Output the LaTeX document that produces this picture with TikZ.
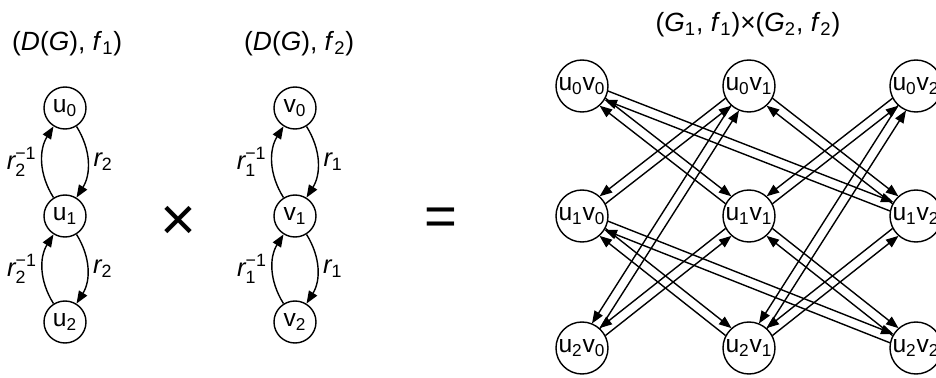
\documentclass[tikz,border=0pt]{standalone}
\usepackage{amsmath}
\usepackage{fontspec}
\setmainfont{Liberation Sans}
\usetikzlibrary{arrows.meta,calc}
\tikzset{
  every picture/.style={line join=round, >={Triangle[length=0.25cm,width=0.19cm]}},
  vtx/.style={draw, circle, line width=0.8pt, minimum size=0.84cm, inner sep=0pt, font=\fontsize{14}{16}\selectfont},
  pvtx/.style={vtx, minimum size=1.04cm},
  link/.style={->, line width=0.8pt},
  lbl/.style={font=\fontsize{14.5}{17}\selectfont, inner sep=3pt},
  ttl/.style={font=\fontsize{15}{18}\selectfont},
}
\newcommand{\gp}{0.095cm}
\newcommand{\rad}{0.52cm}

\begin{document}
\begin{tikzpicture}
\useasboundingbox (0,0) rectangle (18.720,7.560);
% titles
\node[ttl,anchor=west] (t1) at (0.120,6.680) {(\textit{D}(\textit{G}), \textit{f}\textsubscript{1})};
\node[ttl,anchor=west] (t2) at (4.760,6.680) {(\textit{D}(\textit{G}), \textit{f}\textsubscript{2})};
\node[ttl] (t3) at (14.960,7.060) {(\textit{G}\textsubscript{1}, \textit{f}\textsubscript{1})×(\textit{G}\textsubscript{2}, \textit{f}\textsubscript{2})};
% first factor
\node[vtx] (u0) at (1.300,5.400) {u\textsubscript{0}};
\node[vtx] (u1) at (1.300,3.240) {u\textsubscript{1}};
\node[vtx] (u2) at (1.300,1.120) {u\textsubscript{2}};
\draw[link] (u0) to[bend left=32] node[lbl,right] {$\textit{r}_{\text{2}}$} (u1);
\draw[link] (u1) to[bend left=32] node[lbl,left] {$\textit{r}^{\text{−1}}_{\text{2}}$} (u0);
\draw[link] (u1) to[bend left=32] node[lbl,right] {$\textit{r}_{\text{2}}$} (u2);
\draw[link] (u2) to[bend left=32] node[lbl,left] {$\textit{r}^{\text{−1}}_{\text{2}}$} (u1);
% second factor
\node[vtx] (v0) at (5.900,5.400) {v\textsubscript{0}};
\node[vtx] (v1) at (5.900,3.240) {v\textsubscript{1}};
\node[vtx] (v2) at (5.900,1.120) {v\textsubscript{2}};
\draw[link] (v0) to[bend left=32] node[lbl,right] {$\textit{r}_{\text{1}}$} (v1);
\draw[link] (v1) to[bend left=32] node[lbl,left] {$\textit{r}^{\text{−1}}_{\text{1}}$} (v0);
\draw[link] (v1) to[bend left=32] node[lbl,right] {$\textit{r}_{\text{1}}$} (v2);
\draw[link] (v2) to[bend left=32] node[lbl,left] {$\textit{r}^{\text{−1}}_{\text{1}}$} (v1);
% operators
\node[font=\fontsize{35}{37}\selectfont] (times) at (3.560,3.100) {×};
\node[font=\fontsize{32}{34}\selectfont] (eq) at (8.820,3.120) {=};
% product
\foreach \i/\y in {0/5.840,1/3.240,2/0.600}
  \foreach \j/\x in {0/11.640,1/14.980,2/18.320}
    \node[pvtx] (u\i v\j) at (\x,\y) {u\textsubscript{\i}v\textsubscript{\j}};
\foreach \a/\b/\s in {u0v0/u1v1/1, u0v0/u1v2/1, u0v1/u1v0/-1, u0v1/u2v0/-1,
    u0v1/u1v2/1, u0v2/u1v1/-1, u0v2/u2v1/-1, u1v0/u2v1/1,
    u1v0/u2v2/1, u1v1/u2v0/-1, u1v1/u2v2/1, u1v2/u2v1/-1}{
  \pgfmathsetmacro{\angA}{90*\s}
  \pgfmathsetmacro{\angB}{90*\s+180}
  \draw[link, shorten <=\rad, shorten >=\rad] ($(\a)!\gp!\angA:(\b)$) -- ($(\b)!\gp!\angB:(\a)$);
  \draw[link, shorten <=\rad, shorten >=\rad] ($(\b)!\gp!\angA:(\a)$) -- ($(\a)!\gp!\angB:(\b)$);
}
\end{tikzpicture}
\end{document}
